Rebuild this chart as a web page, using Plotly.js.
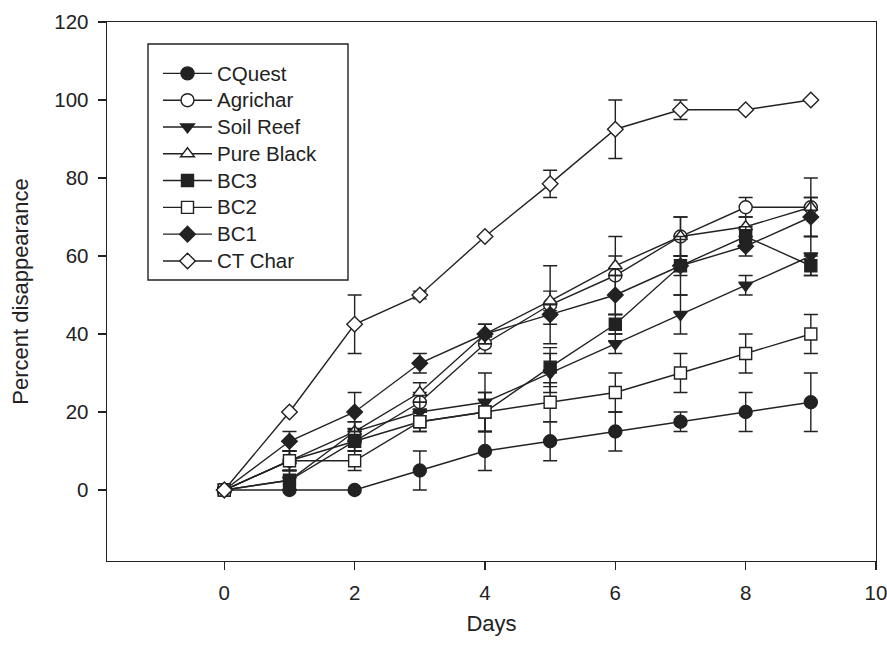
<!DOCTYPE html>
<html>
<head>
<meta charset="utf-8">
<script src="https://cdn.plot.ly/plotly-3.0.1.min.js"></script>
<style>html,body{margin:0;padding:0;background:#fff;}#chart{width:887px;height:650px;}</style>
</head>
<body>
<div id="chart"></div>
<script>
var days = [0, 1, 2, 3, 4, 5, 6, 7, 8, 9];

var seriesNames = ["CQuest", "Agrichar", "Soil Reef", "Pure Black", "BC3", "BC2", "BC1", "CT Char"];

var cquest     = [0, 0, 0, 5, 10, 12.5, 15, 17.5, 20, 22.5];
var cquestErr  = [0, 0, 0, 5, 5, 5, 5, 2.5, 5, 7.5];

var agrichar    = [0, 7.5, 12.5, 22.5, 37.5, 47.5, 55, 65, 72.5, 72.5];
var agricharErr = [0, 2.5, 2.5, 2.5, 2.5, 10, 10, 5, 2.5, 7.5];

var soilReef    = [0, 2.5, 15, 20, 22.5, 30, 37.5, 45, 52.5, 60];
var soilReefErr = [0, 2.5, 2.5, 2.5, 7.5, 5, 2.5, 5, 2.5, 5];

var pureBlack    = [0, 7.5, 15, 25, 40, 48.5, 57.5, 65, 67.5, 72.5];
var pureBlackErr = [0, 2.5, 2.5, 2.5, 2.5, 2.5, 2.5, 5, 2.5, 2.5];

var bc3    = [0, 2.5, 12.5, 17.5, 20, 31.5, 42.5, 57.5, 65, 57.5];
var bc3Err = [0, 2.5, 2.5, 2.5, 5, 5, 2.5, 7.5, 2.5, 2.5];

var bc2    = [0, 7.5, 7.5, 17.5, 20, 22.5, 25, 30, 35, 40];
var bc2Err = [0, 2.5, 2.5, 2.5, 5, 5, 5, 5, 5, 5];

var bc1    = [0, 12.5, 20, 32.5, 40, 45, 50, 57.5, 62.5, 70];
var bc1Err = [0, 2.5, 5, 2.5, 2.5, 2.5, 5, 2.5, 2.5, 5];

var ctChar    = [0, 20, 42.5, 50, 65, 78.5, 92.5, 97.5, 97.5, 100];
var ctCharErr = [0, 0, 7.5, 1, 0, 3.5, 7.5, 2.5, 0, 0];

var xTickVals = [0, 2, 4, 6, 8, 10];
var yTickVals = [0, 20, 40, 60, 80, 100, 120];

var INK = "#222222";
var FONT = "Arial, 'Liberation Sans', sans-serif";
var LEGEND_TEXT_PX = 20.5;

var values = [cquest, agrichar, soilReef, pureBlack, bc3, bc2, bc1, ctChar];
var errors = [cquestErr, agricharErr, soilReefErr, pureBlackErr, bc3Err, bc2Err, bc1Err, ctCharErr];
var symbols = ["circle", "circle", "triangle-down", "triangle-up", "square", "square", "diamond", "diamond"];
var filled = [true, false, true, false, true, false, true, false];
var sizes = [13, 13, 12, 12, 12, 12, 12, 12];

var traces = seriesNames.map(function (name, i) {
  return {
    type: "scatter",
    mode: "lines+markers",
    name: '<span style="font-size:' + LEGEND_TEXT_PX + 'px">' + name + '</span>',
    x: days,
    y: values[i],
    line: { color: INK, width: 1.4 },
    marker: {
      symbol: symbols[i],
      size: sizes[i],
      color: filled[i] ? INK : "#ffffff",
      line: { color: INK, width: 1.4 }
    },
    error_y: {
      type: "data",
      array: errors[i].map(function (v) { return v > 0 ? v : NaN; }),
      visible: true,
      color: INK,
      thickness: 1.4,
      width: 7
    }
  };
});

var L = 107, R = 876, T = 22, B = 561;
var W = 887, H = 650;
var pw = R - L, ph = B - T;
function px2x(p) { return (p - L) / pw; }
function px2y(p) { return (B - p) / ph; }

var layout = {
  width: W,
  height: H,
  margin: { l: L, r: W - R, t: T, b: H - B, pad: 0 },
  paper_bgcolor: "#ffffff",
  plot_bgcolor: "#ffffff",
  font: { family: FONT, size: 20.5, color: INK },
  showlegend: true,
  legend: {
    x: px2x(158),
    y: px2y(55),
    xanchor: "left",
    yanchor: "top",
    bgcolor: "rgba(0,0,0,0)",
    borderwidth: 0,
    itemwidth: 49,
    font: { family: FONT, size: 18.3, color: INK },
    tracegroupgap: 0
  },
  shapes: [{
    type: "rect",
    xref: "paper", yref: "paper",
    x0: px2x(148), x1: px2x(348),
    y0: px2y(280), y1: px2y(44),
    line: { color: INK, width: 1.4 },
    fillcolor: "#ffffff",
    layer: "below"
  }],
  xaxis: {
    range: [-1.8, 10],
    tickvals: xTickVals,
    ticktext: xTickVals.map(String),
    ticks: "outside",
    ticklen: 8,
    tickwidth: 1.4,
    tickcolor: INK,
    ticklabelstandoff: 5,
    ticklabeloverflow: "allow",
    showline: true,
    linecolor: INK,
    linewidth: 1.4,
    mirror: true,
    showgrid: false,
    zeroline: false,
    tickfont: { family: FONT, size: 20.5, color: INK },
    title: { text: "Days", font: { family: FONT, size: 22, color: INK }, standoff: 12 }
  },
  yaxis: {
    range: [-18.2, 120],
    tickvals: yTickVals,
    ticktext: yTickVals.map(String),
    ticks: "outside",
    ticklen: 8,
    tickwidth: 1.4,
    tickcolor: INK,
    ticklabelstandoff: 5,
    ticklabeloverflow: "allow",
    showline: true,
    linecolor: INK,
    linewidth: 1.4,
    mirror: true,
    showgrid: false,
    zeroline: false,
    tickfont: { family: FONT, size: 20.5, color: INK },
    title: { text: "Percent disappearance", font: { family: FONT, size: 22, color: INK }, standoff: 19 }
  }
};

Plotly.newPlot("chart", traces, layout, { displayModeBar: false, staticPlot: true });
</script>
</body>
</html>
